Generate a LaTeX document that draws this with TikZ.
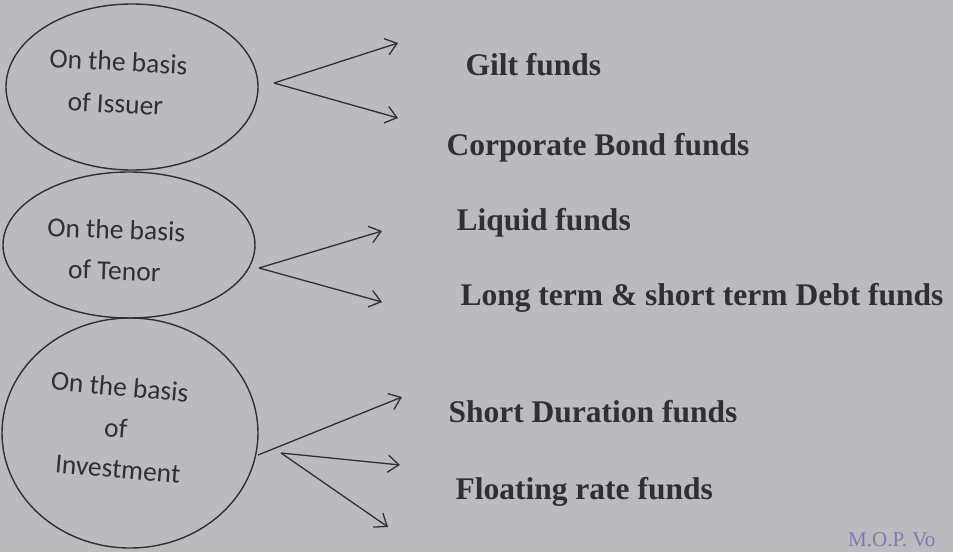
\documentclass[tikz,border=0pt]{standalone}
\usepackage{fontspec}
\setmainfont{Liberation Serif}
\newfontfamily\ovalfont{Carlito}
\usetikzlibrary{shapes.geometric}
\usetikzlibrary{arrows.meta}
\definecolor{scanbg}{RGB}{187,187,191}
\definecolor{ink}{RGB}{48,48,52}
\definecolor{stampink}{RGB}{120,128,170}

\begin{document}
\begin{tikzpicture}[x=1pt, y=-1pt,
  oval/.style={ellipse, draw=ink, line width=1.4pt, inner sep=0pt},
  basis/.style={anchor=base, text=ink, font=\ovalfont\fontsize{27.5}{30}\selectfont},
  fund/.style={anchor=base west, text=ink, font=\bfseries\fontsize{31.5}{34}\selectfont},
  branch/.style={-{Straight Barb[length=11pt, width=17pt]}, draw=ink, line width=1.3pt}]
  \useasboundingbox (0,0) rectangle (953,552);
  \fill[scanbg] (0,0) rectangle (953,552);
  % the three ovals, stacked and touching
  \node[oval, minimum width=252pt, minimum height=166pt] (issuer) at (132,87) {};
  \node[oval, minimum width=252pt, minimum height=146pt] (tenor) at (129,245) {};
  \node[oval, minimum width=256pt, minimum height=230pt] (invest) at (130,433) {};
  % oval texts (the scan is a little skewed)
  \node[basis, rotate=-3] (iss1) at (118,71) {On the basis};
  \node[basis, rotate=-3] (iss2) at (115,113) {of Issuer};
  \node[basis, rotate=-2] (ten1) at (116,239) {On the basis};
  \node[basis, rotate=-2] (ten2) at (114,280) {of Tenor};
  \node[basis, rotate=-5] (inv1) at (119,396) {On the basis};
  \node[basis, rotate=-5] (inv2) at (115,437) {of};
  \node[basis, rotate=-5] (inv3) at (117,478) {Investment};
  % fund types
  \node[fund] (gilt) at (462,75) {Gilt funds};
  \node[fund] (corp) at (443,155) {Corporate Bond funds};
  \node[fund] (liquid) at (453,230) {Liquid funds};
  \node[fund] (longshort) at (457,305) {Long term \& short term Debt funds};
  \node[fund] (shortdur) at (445,422) {Short Duration funds};
  \node[fund] (floating) at (452,499) {Floating rate funds};
  % arrow ends
  \coordinate (issapex) at (274,83);
  \coordinate (gilttip) at (398,43);
  \coordinate (corptip) at (398,118);
  \coordinate (tenapex) at (259,268);
  \coordinate (liqtip) at (382,231);
  \coordinate (longtip) at (382,302);
  \coordinate (invstart) at (258,455);
  \coordinate (invapex) at (281,453);
  \coordinate (shorttip) at (402,397);
  \coordinate (floattip) at (400,465);
  \coordinate (lowtip) at (388,527);
  \draw[branch] (issapex) -- (gilttip);
  \draw[branch] (issapex) -- (corptip);
  \draw[branch] (tenapex) -- (liqtip);
  \draw[branch] (tenapex) -- (longtip);
  \draw[branch] (invstart) -- (shorttip);
  \draw[branch] (invapex) -- (floattip);
  \draw[branch] (invapex) -- (lowtip);
  % stamp in the corner
  \node[anchor=base west, text=stampink, font=\fontsize{21}{22}\selectfont, inner sep=0pt] (stamp) at (848,546) {M.O.P. Vo};
\end{tikzpicture}
\end{document}
